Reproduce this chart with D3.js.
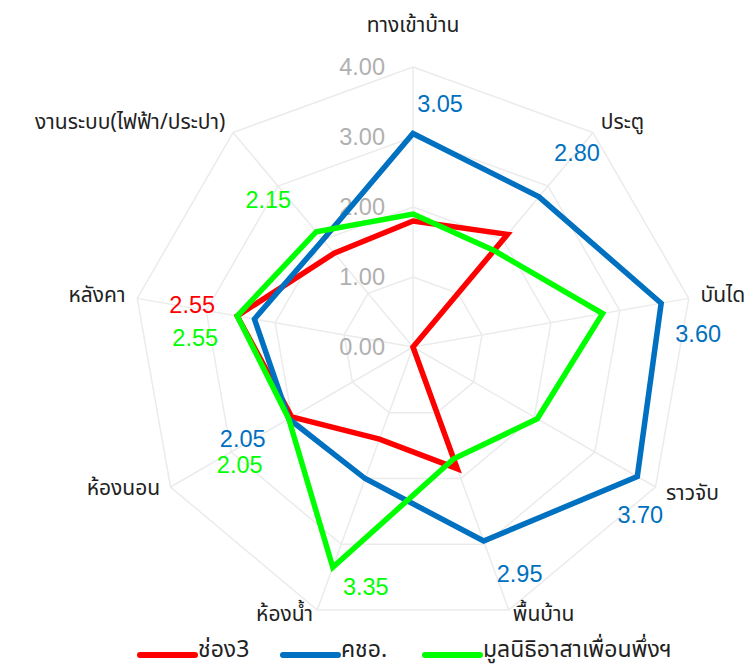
<!DOCTYPE html>
<html>
<head>
<meta charset="utf-8">
<script src="https://cdn.jsdelivr.net/npm/d3@7"></script>
<style>
  html, body { margin: 0; padding: 0; background: #fff; }
  svg { display: block; }
  .thai { font-family: "Noto Sans Thai", "Leelawadee UI", Tahoma, "Noto Sans", sans-serif; }
  .num { font-family: "Liberation Sans", Arial, sans-serif; }
</style>
</head>
<body>
<svg id="chart" width="753" height="669"></svg>
<script>
// Axis categories, clockwise from the top
const categories = ["ทางเข้าบ้าน", "ประตู", "บันได", "ราวจับ", "พื้นบ้าน", "ห้องน้ำ", "ห้องนอน", "หลังคา", "งานระบบ(ไฟฟ้า/ประปา)"];

// Series values per category
const seriesNames = ["ช่อง3", "คชอ.", "มูลนิธิอาสาเพื่อนพึ่งฯ"];
const channel3 = [1.80, 2.10, 0.00, 0.00, 1.85, 1.40, 2.00, 2.55, 1.75];
const kcho = [3.05, 2.80, 3.60, 3.70, 2.95, 2.00, 2.05, 2.30, 2.00];
const foundation = [1.90, 1.80, 2.75, 2.05, 1.70, 3.35, 2.05, 2.55, 2.15];

// Radial tick labels
const tickValues = [0, 1, 2, 3, 4];
const tickLabels = ["0.00", "1.00", "2.00", "3.00", "4.00"];

const colors = ["#FF0000", "#0070C0", "#00FF00"];
const allSeries = [channel3, kcho, foundation];

// Data labels shown on selected points: series index, category index, label offset
const pointLabels = [
  { s: 1, i: 0, dx: 27, dy: -30 },
  { s: 1, i: 1, dx: 38, dy: -44 },
  { s: 1, i: 2, dx: 37, dy: 30 },
  { s: 1, i: 3, dx: 3, dy: 38 },
  { s: 1, i: 4, dx: 36, dy: 32 },
  { s: 2, i: 5, dx: 33, dy: 19 },
  { s: 1, i: 6, dx: -46, dy: 20 },
  { s: 2, i: 6, dx: -49, dy: 46 },
  { s: 0, i: 7, dx: -45, dy: -11 },
  { s: 2, i: 7, dx: -42, dy: 22 },
  { s: 2, i: 8, dx: -48, dy: -32 }
];

// Vertical nudge of each category label from the end of its spoke
const catLabelDy = [-42, -11, -4, 6, 4, 4, 1, -4, -11];

const svg = d3.select("#chart");
const cx = 413, cy = 347, R = 280;
const r = d3.scaleLinear().domain([0, 4]).range([0, R]);
const n = categories.length;
const angle = i => i * 2 * Math.PI / n;
const pt = (i, v) => [cx + r(v) * Math.sin(angle(i)), cy - r(v) * Math.cos(angle(i))];

const g = svg.append("g");

// Grid rings
g.selectAll(".ring").data(tickValues.filter(t => t > 0)).join("polygon")
  .attr("points", t => d3.range(n).map(i => pt(i, t).join(",")).join(" "))
  .attr("fill", "none").attr("stroke", "#ebebeb").attr("stroke-width", 1.5);

// Spokes
g.selectAll(".spoke").data(d3.range(n)).join("line")
  .attr("x1", cx).attr("y1", cy)
  .attr("x2", i => pt(i, 4)[0]).attr("y2", i => pt(i, 4)[1])
  .attr("stroke", "#ebebeb").attr("stroke-width", 1.5);

// Tick labels along the top spoke
g.selectAll(".tick").data(tickValues).join("text")
  .attr("class", "num")
  .attr("x", cx - 28).attr("y", t => cy - r(t))
  .attr("dy", "0.36em")
  .attr("text-anchor", "end")
  .attr("font-size", 23.5)
  .attr("fill", "#b0b0b0")
  .text((t, k) => tickLabels[k]);

// Category labels
g.selectAll(".cat").data(categories).join("text")
  .attr("class", "thai")
  .attr("x", (c, i) => pt(i, 4)[0] + Math.sin(angle(i)) * 12)
  .attr("y", (c, i) => pt(i, 4)[1] + catLabelDy[i])
  .attr("dy", "0.35em")
  .attr("text-anchor", (c, i) => {
    const s = Math.sin(angle(i));
    return Math.abs(s) < 1e-6 ? "middle" : (s > 0 ? "start" : "end");
  })
  .attr("font-size", 21)
  .attr("fill", "#222")
  .text(c => c);

// Series lines
const line = d3.line().curve(d3.curveLinearClosed);
g.selectAll(".series").data(allSeries).join("path")
  .attr("d", vals => line(vals.map((v, i) => pt(i, v))))
  .attr("fill", "none")
  .attr("stroke", (vals, k) => colors[k])
  .attr("stroke-width", 5.5)
  .attr("stroke-linejoin", "miter");

// Value labels
g.selectAll(".vlabel").data(pointLabels).join("text")
  .attr("class", "num")
  .attr("x", d => pt(d.i, allSeries[d.s][d.i])[0] + d.dx)
  .attr("y", d => pt(d.i, allSeries[d.s][d.i])[1] + d.dy)
  .attr("dy", "0.36em")
  .attr("text-anchor", "middle")
  .attr("font-size", 23.5)
  .attr("fill", d => colors[d.s])
  .text(d => d3.format(".2f")(allSeries[d.s][d.i]));

// Legend
const legendX = [140, 283, 425];
const legend = svg.append("g").selectAll("g").data(seriesNames).join("g")
  .attr("transform", (d, k) => `translate(${legendX[k]},655)`);
legend.append("line")
  .attr("x1", 0).attr("x2", 55).attr("y1", 0).attr("y2", 0)
  .attr("stroke", (d, k) => colors[k]).attr("stroke-width", 6).attr("stroke-linecap", "round");
legend.append("text")
  .attr("class", "thai")
  .attr("x", 58).attr("y", -6).attr("dy", "0.35em")
  .attr("font-size", 23)
  .attr("fill", "#222")
  .text(d => d);
</script>
</body>
</html>
